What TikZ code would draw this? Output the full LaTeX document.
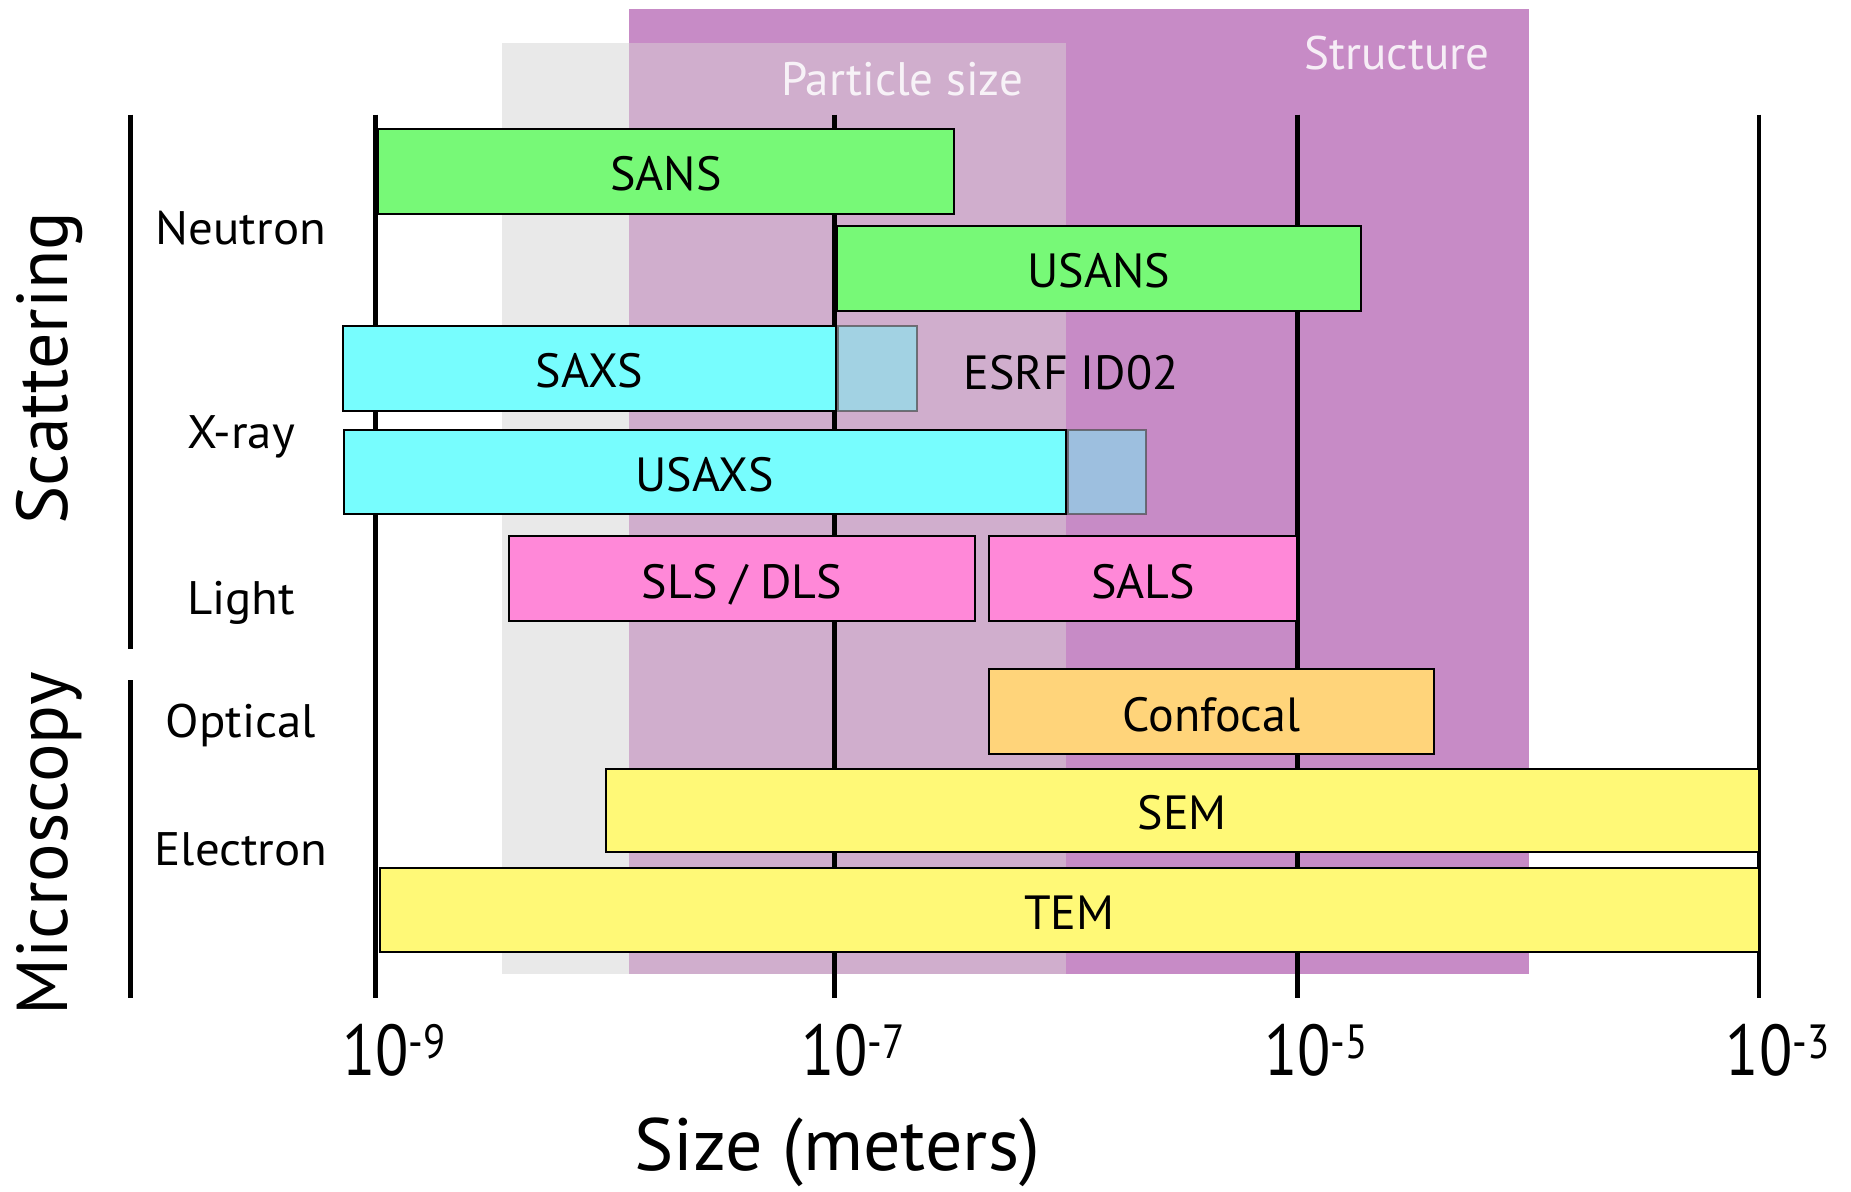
\documentclass[tikz,border=0pt]{standalone}
\usepackage{fontspec}
\setmainfont{PT Sans}
\definecolor{bandgray}{HTML}{E9E9E9}
\definecolor{bandpurple}{HTML}{C78BC6}
\definecolor{bandmix}{HTML}{D0AECD}
\definecolor{neutrongreen}{HTML}{77F977}
\definecolor{xraycyan}{HTML}{77FDFE}
\definecolor{extcyan}{HTML}{6BFFFF}
\definecolor{lightpink}{HTML}{FF88D8}
\definecolor{optorange}{HTML}{FFD47A}
\definecolor{elyellow}{HTML}{FFF977}
\tikzset{
  gridline/.style={line width=4.5pt},
  groupline/.style={line width=5pt},
  bar/.style={draw=black, line width=2pt, inner sep=0pt,
    text height=39pt, text depth=0pt,
    font=\fontsize{48}{50}\selectfont},
  extbar/.style={draw=black!70, draw opacity=0.7, line width=2pt, inner sep=0pt,
    fill=extcyan, fill opacity=0.45, anchor=west},
  rowlabel/.style={font=\fontsize{47}{49}\selectfont, xscale=1.04,
    text height=33pt, text depth=0pt},
  grouplabel/.style={font=\fontsize{72}{74}\selectfont, rotate=90},
  bandlabel/.style={text=white, text opacity=0.85, font=\fontsize{47}{49}\selectfont},
  ticklabel/.style={font=\fontsize{72}{74}\selectfont, xscale=0.85, inner sep=0pt},
}
% decade label: the mantissa is centred, the exponent hangs to the right
\newcommand{\powten}[1]{10\rlap{\raisebox{17pt}{\fontsize{48}{48}\selectfont -#1}}}
\begin{document}
\begin{tikzpicture}[x=1pt,y=-1pt]
\useasboundingbox (0,0) rectangle (1851,1191);

% size bands in the background
\fill[bandgray] (502,42.5) rectangle (1066,974);
\fill[bandpurple] (629,9.4) rectangle (1529,974);
\fill[bandmix] (629,42.5) rectangle (1066,974);
\node[bandlabel] (particle) at (902,79) {Particle size};
\node[bandlabel] (structure) at (1397,53) {Structure};

% decade grid lines
\draw[gridline] (375.4,114.5) -- (375.4,997.5);
\draw[gridline] (834.6,114.5) -- (834.6,997.5);
\draw[gridline] (1297.4,114.5) -- (1297.4,997.5);
\draw[gridline] (1759,114.5) -- (1759,997.5);

% neutron scattering
\node[bar, fill=neutrongreen, minimum width=576, minimum height=85] (sans) at (665.8,171.2) {SANS};
\node[bar, fill=neutrongreen, minimum width=524, minimum height=85] (usans) at (1099,268) {USANS};

% x-ray scattering
\node[bar, fill=xraycyan, minimum width=492.3, minimum height=85] (saxs) at (589.6,368.3) {SAXS};
\node[extbar, minimum width=79, minimum height=85] (saxsext) at (saxs.east) {};
\node[bar, fill=xraycyan, minimum width=722.5, minimum height=84] (usaxs) at (704.8,471.6) {USAXS};
\node[extbar, minimum width=78, minimum height=84] (usaxsext) at (usaxs.east) {};
\node[font=\fontsize{48}{50}\selectfont, text height=39pt, text depth=0pt] (esrf) at (1071,369.5) {ESRF ID02};

% light scattering
\node[bar, fill=lightpink, minimum width=466.2, minimum height=85] (sls) at (741.9,578.5) {SLS / DLS};
\node[bar, fill=lightpink, minimum width=308.4, minimum height=85] (sals) at (1143.2,578.5) {SALS};

% microscopy
\node[bar, fill=optorange, minimum width=445, minimum height=85] (confocal) at (1211.5,711.5) {Confocal};
\node[bar, fill=elyellow, minimum width=1153.4, minimum height=83.5] (sem) at (1182.3,810.3) {SEM};
\node[bar, fill=elyellow, minimum width=1379, minimum height=83.8] (tem) at (1069.5,909.6) {TEM};

% row labels
\node[rowlabel] (neutron) at (241,228) {Neutron};
\node[rowlabel] (xray) at (241,432) {X-ray};
\node[rowlabel] (light) at (241,598) {Light};
\node[rowlabel] (optical) at (241,721) {Optical};
\node[rowlabel] (electron) at (241,849) {Electron};

% group brackets and titles
\draw[groupline] (130,114.5) -- (130,649);
\draw[groupline] (130,680) -- (130,997.5);
\node[grouplabel] (scattering) at (49.6,368) {Scattering};
\node[grouplabel] (microscopy) at (49.6,844) {Microscopy};

% axis
\node[ticklabel] (t9) at (375.4,1050.5) {\powten{9}};
\node[ticklabel] (t7) at (834.6,1050.5) {\powten{7}};
\node[ticklabel] (t5) at (1297.4,1050.5) {\powten{5}};
\node[ticklabel] (t3) at (1759,1050.5) {\powten{3}};
\node[font=\fontsize{74}{76}\selectfont, inner sep=0pt] (axistitle) at (837,1152) {Size (meters)};
\end{tikzpicture}
\end{document}
